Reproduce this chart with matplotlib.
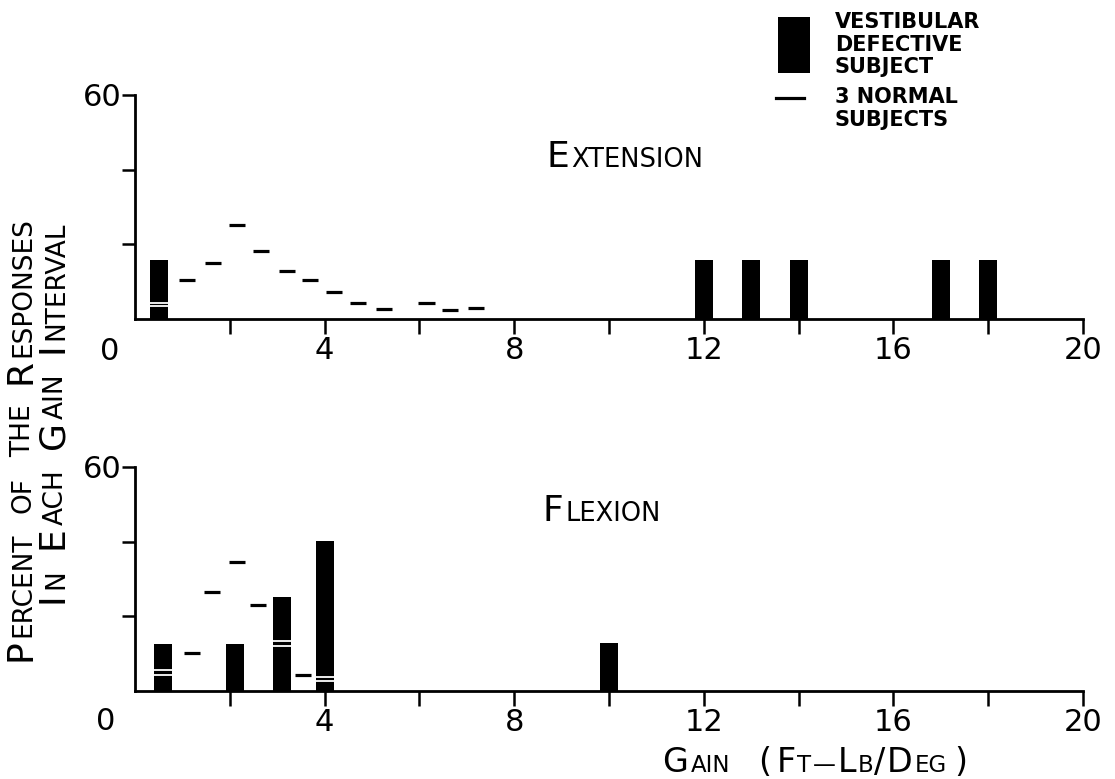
import numpy as np
import matplotlib
matplotlib.use("Agg")
import matplotlib.pyplot as plt
from matplotlib.transforms import IdentityTransform
from matplotlib.patches import Rectangle
from matplotlib.lines import Line2D

W, H = 1115, 779

# Extension - vestibular defective subject (bars) and 3 normal subjects (dashes)
ext_bar_gain = [0.5, 12, 13, 14, 17, 18]
ext_bar_pct = [15.8, 15.8, 15.8, 15.8, 15.8, 15.8]
ext_bar_breaks = [[3.5, 4.4], [], [], [], [], []]
ext_norm_gain = [1.1, 1.65, 2.15, 2.65, 3.2, 3.7, 4.2, 4.7, 5.25, 6.15, 6.65, 7.2]
ext_norm_pct = [10.5, 15.1, 25.2, 18.2, 12.9, 10.5, 7.2, 4.3, 2.7, 4.4, 2.3, 2.9]

# Flexion
flex_bar_gain = [0.6, 2.1, 3.1, 4.0, 10.0]
flex_bar_pct = [12.7, 12.7, 25.1, 40.1, 12.9]
flex_bar_breaks = [[4.4, 5.5], [], [12.1, 13.5], [2.8, 3.7], []]
flex_norm_gain = [1.2, 1.62, 2.15, 2.6, 3.54]
flex_norm_pct = [10.2, 26.6, 34.5, 23.1, 4.2]

x_ticks = [2, 4, 6, 8, 10, 12, 14, 16, 18, 20]
x_tick_labels = ["", "4", "", "8", "", "12", "", "16", "", "20"]
y_ticks = [20, 40, 60]
y_tick_labels = ["", "", "60"]

BAR_W = 0.38
DASH_HALF = 0.17


def capsText(fig, pieces, center, base, rotation=0):
    # draws "small caps" lettering piece by piece, then centers the whole word group
    r = fig.canvas.get_renderer()
    texts = []
    pos = 0.0
    for txt, size, gap in pieces:
        pos += gap
        xy = (pos, base) if rotation == 0 else (base, pos)
        t = fig.text(xy[0], xy[1], txt, fontsize=size, transform=IdentityTransform(),
                     ha="left", va="baseline", rotation=rotation, rotation_mode="anchor")
        bb = t.get_window_extent(r)
        pos = bb.x1 if rotation == 0 else bb.y1
        texts.append(t)
    shift = center - pos / 2
    for t in texts:
        x, y = t.get_position()
        t.set_position((x + shift, y) if rotation == 0 else (x, y + shift))


def drawPanel(ax, bar_gain, bar_pct, breaks, norm_gain, norm_pct):
    ax.bar(bar_gain, bar_pct, width=BAR_W, color="black", zorder=2)
    for g, br in zip(bar_gain, breaks):
        if br:
            ax.hlines(br, g - BAR_W / 2, g + BAR_W / 2, color="white", lw=1.3, zorder=3)
    ng = np.array(norm_gain)
    ax.hlines(norm_pct, ng - DASH_HALF, ng + DASH_HALF, color="black", lw=2.3, zorder=2)

    ax.set_xlim(0, 20)
    ax.set_ylim(0, 60)
    for s in ["top", "right"]:
        ax.spines[s].set_visible(False)
    for s in ["left", "bottom"]:
        ax.spines[s].set_linewidth(2)
    ax.set_xticks(x_ticks)
    ax.set_xticklabels(x_tick_labels)
    ax.set_yticks(y_ticks)
    ax.set_yticklabels(y_tick_labels)
    ax.tick_params(axis="x", direction="out", length=10.5, width=1.8, labelsize=22, pad=2)
    ax.tick_params(axis="y", direction="out", length=9.5, width=1.8, labelsize=22, pad=0)


def main():
    fig = plt.figure(figsize=(W / 100, H / 100), dpi=100)

    left = 135 / W
    width = 948 / W
    axTop = fig.add_axes([left, (H - 319) / H, width, 224 / H])
    axBot = fig.add_axes([left, (H - 691) / H, width, 224 / H])

    drawPanel(axTop, ext_bar_gain, ext_bar_pct, ext_bar_breaks, ext_norm_gain, ext_norm_pct)
    drawPanel(axBot, flex_bar_gain, flex_bar_pct, flex_bar_breaks, flex_norm_gain, flex_norm_pct)

    # shared "0" at each origin
    fig.text(110, H - 352, "0", fontsize=22, ha="center", va="center", transform=IdentityTransform())
    fig.text(106, H - 721, "0", fontsize=22, ha="center", va="center", transform=IdentityTransform())

    # panel titles
    capsText(fig, [("E", 26, 0), ("XTENSION", 18.5, 2)], 625, H - 167)
    capsText(fig, [("F", 26, 0), ("LEXION", 18.5, 2)], 602, H - 521)

    # x axis label
    capsText(fig, [("G", 24, 0), ("AIN", 16.5, 2), ("(", 24, 28), ("F", 24, 6), ("T", 16.5, 1),
                   ("\u2014", 16.5, 2), ("L", 24, 2), ("B", 16.5, 1), ("/", 24, 1), ("D", 24, 1),
                   ("EG", 16.5, 2), (")", 24, 8)], 815, H - 772)

    # y axis label, two rotated lines
    capsText(fig, [("P", 26, 0), ("ERCENT", 19, 2), ("OF", 19, 20), ("THE", 19, 20),
                   ("R", 26, 20), ("ESPONSES", 19, 2)], H - 439, 30, rotation=90)
    capsText(fig, [("I", 26, 0), ("N", 19, 3), ("E", 26, 20), ("ACH", 19, 2),
                   ("G", 26, 20), ("AIN", 19, 2), ("I", 26, 20), ("NTERVAL", 19, 3)],
             H - 412, 63, rotation=90)

    # legend, drawn by hand like the original
    fig.add_artist(Rectangle((778, H - 73), 32, 56, transform=IdentityTransform(),
                             facecolor="black", edgecolor="none"))
    fig.add_artist(Line2D([776, 804], [H - 98, H - 98], lw=2.3, color="black",
                          transform=IdentityTransform()))
    legend_lines = [("VESTIBULAR", 28), ("DEFECTIVE", 51), ("SUBJECT", 73),
                    ("3 NORMAL", 103), ("SUBJECTS", 126)]
    for txt, yb in legend_lines:
        fig.text(835, H - yb, txt, fontsize=15, fontweight="bold", va="baseline",
                 ha="left", transform=IdentityTransform())

    fig.savefig("out.png", dpi=100)


if __name__ == "__main__":
    main()
